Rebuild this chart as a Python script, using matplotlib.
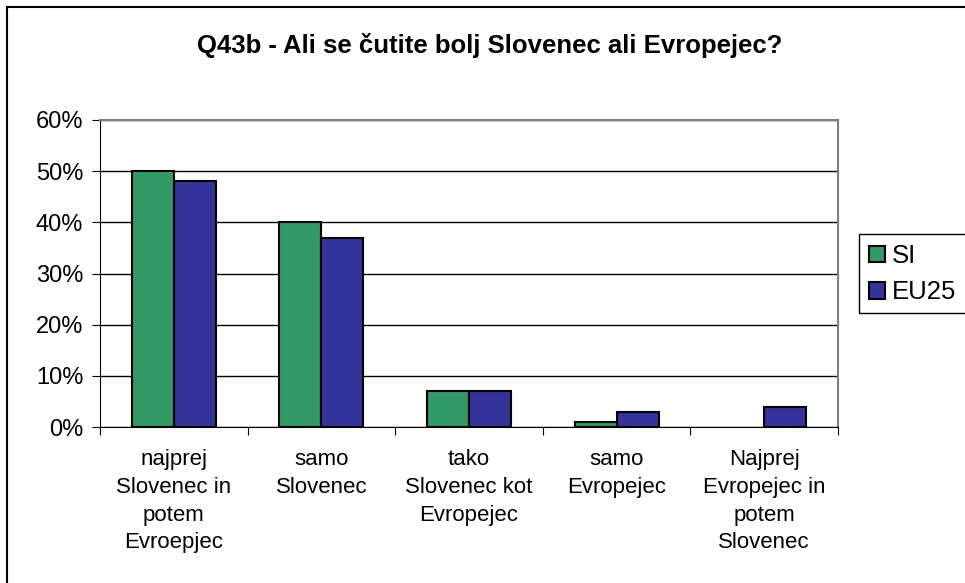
import matplotlib.pyplot as plt
import numpy as np
from matplotlib.patches import Rectangle

plt.rcParams['font.family'] = ['Liberation Sans', 'DejaVu Sans']

categories = ['najprej\nSlovenec in\npotem\nEvroepjec',
              'samo\nSlovenec',
              'tako\nSlovenec kot\nEvropejec',
              'samo\nEvropejec',
              'Najprej\nEvropejec in\npotem\nSlovenec']
si_values = [50, 40, 7, 1, 0]
eu25_values = [48, 37, 7, 3, 4]
yticks = [0, 10, 20, 30, 40, 50, 60]
ytick_labels = ['0%', '10%', '20%', '30%', '40%', '50%', '60%']

W, H = 965, 583
fig = plt.figure(figsize=(W / 100, H / 100), dpi=100)
ax = fig.add_axes([100 / W, 1 - 427 / H, 738 / W, 307 / H])

x = np.arange(len(categories))
bw = 0.285
# empty bars get no outline
si_lw = [1.5 if v > 0 else 0 for v in si_values]
eu_lw = [1.5 if v > 0 else 0 for v in eu25_values]
ax.bar(x - bw / 2, si_values, bw, color='#339966', edgecolor='black',
       linewidth=si_lw, label='SI', zorder=3)
ax.bar(x + bw / 2, eu25_values, bw, color='#333399', edgecolor='black',
       linewidth=eu_lw, label='EU25', zorder=3)

ax.set_xlim(-0.5, len(categories) - 0.5)
ax.set_ylim(0, 60)
ax.set_yticks(yticks)
ax.set_yticklabels(ytick_labels, fontsize=17)
ax.yaxis.grid(True, color='black', linewidth=1, zorder=0)

ax.set_xticks(np.arange(len(categories) + 1) - 0.5)
ax.set_xticklabels([])
ax.set_xticks(x, minor=True)
ax.set_xticklabels(categories, minor=True, fontsize=16, linespacing=1.42,
                   va='top')
ax.tick_params(axis='x', which='minor', length=0, pad=16)
ax.tick_params(axis='x', which='major', length=6, direction='out',
               color='black')
ax.tick_params(axis='y', length=6, direction='out', color='black', pad=6)

for side in ['top', 'right']:
    ax.spines[side].set_color('#808080')
    ax.spines[side].set_linewidth(1.5)
ax.spines['left'].set_color('black')
ax.spines['bottom'].set_color('black')

fig.text(490 / W, 1 - 46 / H, 'Q43b - Ali se čutite bolj Slovenec ali Evropejec?',
         ha='center', va='center', fontsize=18.5, fontweight='bold')

leg = fig.legend(loc='upper left', bbox_to_anchor=(869 / W, 1 - 244 / H),
                 fontsize=18.5, frameon=False,
                 handlelength=0.62, handleheight=0.62, handletextpad=0.27,
                 borderpad=0, labelspacing=0.48, borderaxespad=0)
for h in leg.legend_handles:
    h.set_linewidth(1.5)
fig.patches.append(Rectangle((859 / W, 1 - 313 / H), 120 / W, 79 / H,
                             transform=fig.transFigure, fill=False,
                             edgecolor='black', linewidth=1))

fig.patches.append(Rectangle((7 / W, -0.1), 1, 1.1 - 7 / H, transform=fig.transFigure,
                             fill=False, edgecolor='black', linewidth=1.5))

fig.savefig('out.png', dpi=100)
